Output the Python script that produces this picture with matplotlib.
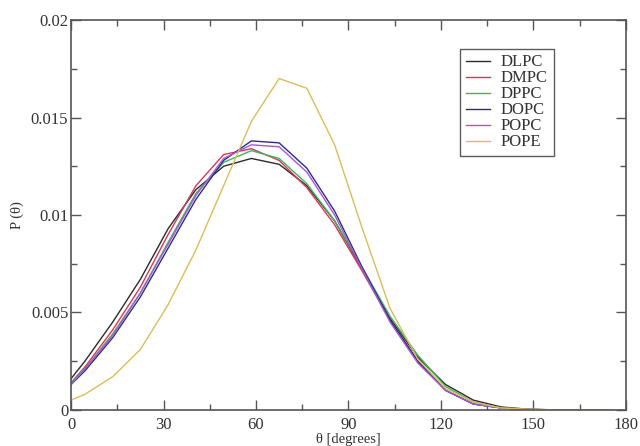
import matplotlib
matplotlib.use("Agg")
import matplotlib.pyplot as plt
from matplotlib.ticker import MultipleLocator

plt.rcParams["font.family"] = ["Liberation Serif", "DejaVu Serif"]

# bin centres (degrees) plus the start point at 0
theta = [0, 4.5, 13.5, 22.5, 31.5, 40.5, 49.5, 58.5, 67.5, 76.5, 85.5,
         94.5, 103.5, 112.5, 121.5, 130.5, 139.5, 148.5, 157.5, 166.5, 175.5]

dlpc = [0.0016, 0.0025, 0.0045, 0.0067, 0.0093, 0.0113, 0.0125, 0.0129, 0.0126,
        0.0115, 0.0097, 0.0072, 0.0047, 0.0027, 0.0013, 0.0005, 0.00015, 0.00003,
        0.0, 0.0, 0.0]
dmpc = [0.0014, 0.0022, 0.0041, 0.0063, 0.0090, 0.0115, 0.0131, 0.0134, 0.0128,
        0.0114, 0.0095, 0.0071, 0.0046, 0.0025, 0.0010, 0.0003, 0.0001, 0.00002,
        0.0, 0.0, 0.0]
dppc = [0.0014, 0.0021, 0.0039, 0.0060, 0.0086, 0.0111, 0.0127, 0.0133, 0.0129,
        0.0116, 0.0097, 0.0073, 0.0048, 0.0028, 0.0012, 0.0004, 0.0001, 0.00002,
        0.0, 0.0, 0.0]
dopc = [0.0013, 0.0020, 0.0037, 0.0058, 0.0083, 0.0108, 0.0128, 0.0138, 0.0137,
        0.0124, 0.0102, 0.0073, 0.0046, 0.0025, 0.0010, 0.0003, 0.0001, 0.00002,
        0.0, 0.0, 0.0]
popc = [0.0013, 0.0021, 0.0038, 0.0060, 0.0085, 0.0110, 0.0129, 0.0136, 0.0135,
        0.0122, 0.0100, 0.0072, 0.0045, 0.0024, 0.0010, 0.0003, 0.0001, 0.00002,
        0.0, 0.0, 0.0]
pope = [0.0005, 0.0008, 0.0017, 0.0031, 0.0054, 0.0082, 0.0115, 0.0148, 0.0170,
        0.0165, 0.0136, 0.0093, 0.0052, 0.0026, 0.0011, 0.0004, 0.0001, 0.00003,
        0.0, 0.0, 0.0]

series = [
    ("DLPC", dlpc, "#2b2b2b"),
    ("DMPC", dmpc, "#d8365a"),
    ("DPPC", dppc, "#3db55a"),
    ("DOPC", dopc, "#2e2a8c"),
    ("POPC", popc, "#a55ad2"),
    ("POPE", pope, "#dcbc5a"),
]

fig = plt.figure(figsize=(6.4, 4.46), dpi=100, facecolor="white")
ax = fig.add_axes([0.111, 0.081, 0.867, 0.874])

for name, vals, color in series:
    ax.plot(theta, vals, color=color, linewidth=1.0, label=name)

ax.set_xlim(0, 180)
ax.set_ylim(0, 0.02)
ax.xaxis.set_major_locator(MultipleLocator(30))
ax.xaxis.set_minor_locator(MultipleLocator(15))
ax.yaxis.set_major_locator(MultipleLocator(0.005))
ax.yaxis.set_minor_locator(MultipleLocator(0.0025))
ax.set_yticks([0, 0.005, 0.01, 0.015, 0.02])
ax.set_yticklabels(["0", "0.005", "0.01", "0.015", "0.02"])

axis_col = "#555555"
ax.tick_params(which="both", direction="in", top=True, right=True,
               colors=axis_col, labelcolor="#333333", labelsize=12)
ax.tick_params(which="major", length=7, width=1)
ax.tick_params(which="minor", length=4, width=1)
ax.tick_params(axis="y", pad=2)
ax.tick_params(axis="x", pad=5)
for sp in ax.spines.values():
    sp.set_color(axis_col)
    sp.set_linewidth(1.2)

ax.set_xlabel("θ [degrees]", fontsize=10.5, color="#333333", labelpad=0)
ax.set_ylabel("P (θ)", fontsize=10.5, color="#333333", labelpad=5)

leg = ax.legend(loc="upper left", bbox_to_anchor=(0.701, 0.927), fontsize=12,
                frameon=True, fancybox=False, handlelength=1.45,
                labelspacing=0.0, borderpad=0.35, handletextpad=0.65,
                borderaxespad=0)
leg.get_frame().set_edgecolor("#333333")
leg.get_frame().set_linewidth(1.0)
for t in leg.get_texts():
    t.set_color("#333333")

plt.savefig("out.png", dpi=100, facecolor="white")
plt.close(fig)
